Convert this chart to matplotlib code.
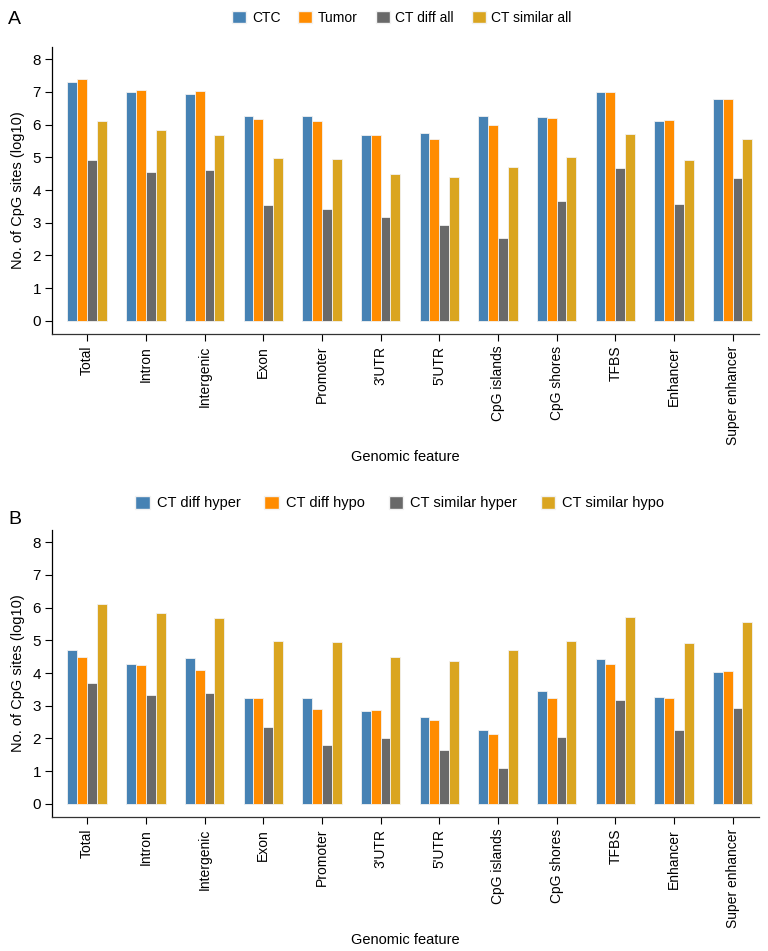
import matplotlib
matplotlib.use("Agg")
import matplotlib.pyplot as plt
import numpy as np
from matplotlib.patches import Patch

plt.rcParams['font.family'] = ['Liberation Sans', 'DejaVu Sans']

categories = ["Total", "Intron", "Intergenic", "Exon", "Promoter", "3'UTR", "5'UTR",
              "CpG islands", "CpG shores", "TFBS", "Enhancer", "Super enhancer"]

# Panel A
ctc = [7.31, 6.98, 6.94, 6.25, 6.27, 5.68, 5.73, 6.25, 6.22, 6.99, 6.11, 6.77]
tumor = [7.38, 7.05, 7.04, 6.16, 6.12, 5.69, 5.57, 5.98, 6.20, 7.01, 6.14, 6.77]
ct_diff_all = [4.91, 4.55, 4.61, 3.54, 3.41, 3.16, 2.92, 2.52, 3.66, 4.67, 3.57, 4.37]
ct_similar_all = [6.11, 5.83, 5.67, 4.98, 4.96, 4.49, 4.39, 4.69, 5.00, 5.72, 4.93, 5.56]

# Panel B
ct_diff_hyper = [4.70, 4.28, 4.46, 3.23, 3.25, 2.85, 2.67, 2.26, 3.44, 4.42, 3.27, 4.04]
ct_diff_hypo = [4.48, 4.24, 4.09, 3.24, 2.89, 2.86, 2.55, 2.15, 3.24, 4.28, 3.24, 4.07]
ct_similar_hyper = [3.69, 3.34, 3.39, 2.35, 1.79, 2.02, 1.66, 1.11, 2.03, 3.19, 2.27, 2.92]
ct_similar_hypo = [6.10, 5.83, 5.68, 4.97, 4.94, 4.49, 4.38, 4.69, 4.99, 5.72, 4.91, 5.56]

labels_a = ["CTC", "Tumor", "CT diff all", "CT similar all"]
labels_b = ["CT diff hyper", "CT diff hypo", "CT similar hyper", "CT similar hypo"]
colors = ["#4682B4", "#FF8C00", "#696969", "#DAA520"]

W, H = 768, 951
fig = plt.figure(figsize=(W / 100, H / 100), dpi=100)

def make_axes(top_px, bottom_px):
    left, right = 52 / W, 759 / W
    return fig.add_axes([left, 1 - bottom_px / H, right - left, (bottom_px - top_px) / H])

def draw(ax, series):
    x = np.arange(len(categories))
    bw = 0.168
    for i, (vals, c) in enumerate(zip(series, colors)):
        ax.bar(x + (i - 1.5) * bw, vals, width=bw, color=c, edgecolor="#f2f2f2", linewidth=0.6)
    ax.set_xlim(-0.6, 11.45)
    ax.set_ylim(-0.4, 8.37)
    ax.set_yticks(range(0, 9))
    ax.set_xticks(x)
    ax.set_xticklabels(categories, rotation=90, fontsize=10)
    ax.tick_params(axis='y', labelsize=11, length=5, width=0.8, pad=3)
    ax.tick_params(axis='x', length=5, width=0.8)
    for s in ["top", "right"]:
        ax.spines[s].set_visible(False)
    ax.spines["left"].set_linewidth(0.9)
    ax.spines["bottom"].set_linewidth(0.9)
    ax.spines["bottom"].set_color("#333333")
    ax.set_ylabel("No. of CpG sites (log10)", fontsize=10.5)
    ax.set_xlabel("Genomic feature", fontsize=10.5)

axA = make_axes(47, 334)
draw(axA, [ctc, tumor, ct_diff_all, ct_similar_all])
axB = make_axes(530, 817)
draw(axB, [ct_diff_hyper, ct_diff_hypo, ct_similar_hyper, ct_similar_hypo])
axA.xaxis.set_label_coords(0.5, -0.405)
axB.xaxis.set_label_coords(0.5, -0.405)
axA.yaxis.set_label_coords(-0.038, 0.5)
axB.yaxis.set_label_coords(-0.038, 0.5)

handles_a = [Patch(facecolor=c, edgecolor="#f2f2f2", label=l) for c, l in zip(colors, labels_a)]
handles_b = [Patch(facecolor=c, edgecolor="#f2f2f2", label=l) for c, l in zip(colors, labels_b)]
fig.legend(handles=handles_a, loc="center", bbox_to_anchor=(402 / W, 1 - 18 / H), ncol=4,
           frameon=False, fontsize=10, handlelength=1.0, handleheight=1.0,
           handletextpad=0.4, columnspacing=1.3)
fig.legend(handles=handles_b, loc="center", bbox_to_anchor=(400 / W, 1 - 503 / H), ncol=4,
           frameon=False, fontsize=10.5, handlelength=1.0, handleheight=1.0,
           handletextpad=0.5, columnspacing=1.6)

fig.text(8 / W, 1 - 20 / H, "A", fontsize=14, va="center", ha="left")
fig.text(8 / W, 1 - 520 / H, "B", fontsize=14, va="center", ha="left")

fig.savefig("out.png", dpi=100)
